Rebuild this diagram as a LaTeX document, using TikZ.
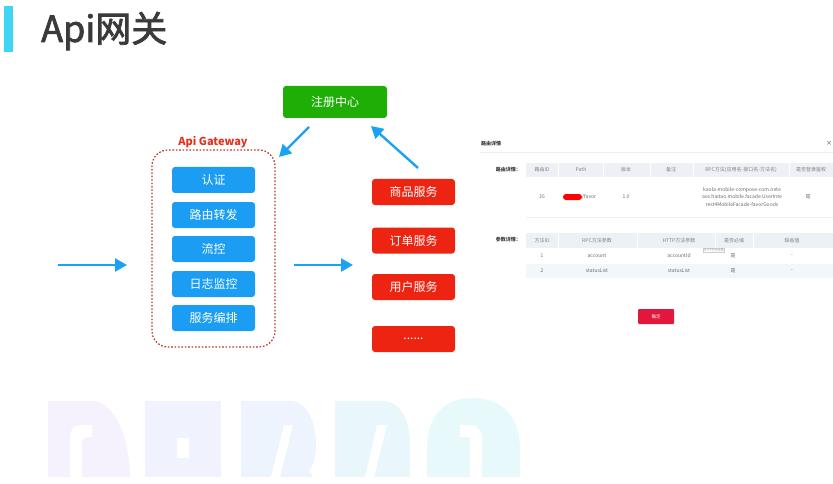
\documentclass[tikz,border=0pt]{standalone}
\usepackage{fontspec}
\setmainfont{Noto Sans CJK SC}
\newfontfamily\cjk{Noto Sans CJK SC}
\newfontfamily\titlefont[FakeBold=2]{Noto Sans CJK SC}
\usepackage{xcolor}
\usepackage{tikz}
\usetikzlibrary{
	arrows.meta,
	calc,
	positioning
}

\definecolor{barcyan}{HTML}{3FD6F5}
\definecolor{titlegray}{HTML}{3A3A3A}
\definecolor{gwblue}{HTML}{1A9DF2}
\definecolor{arrowblue}{HTML}{1AA2F4}
\definecolor{reggreen}{HTML}{1FAE05}
\definecolor{svcred}{HTML}{EE2412}
\definecolor{gwred}{HTML}{E2321F}
\definecolor{framered}{HTML}{B03A2A}
\definecolor{headbg}{HTML}{EDF1F6}
\definecolor{rowbg}{HTML}{F4F7FA}
\definecolor{linegray}{HTML}{ECEEF1}
\definecolor{txtgray}{HTML}{6A6A6A}
\definecolor{btnred}{HTML}{E3163B}
\definecolor{wma}{HTML}{F5F2FD}
\definecolor{wmb}{HTML}{F0F3FD}
\definecolor{wmc}{HTML}{EDF4FD}
\definecolor{wmd}{HTML}{E9F6FC}
\definecolor{wme}{HTML}{E7F9FB}

\tikzset{
	gwbox/.style={rectangle, rounded corners=3pt, fill=gwblue, text=white,
		minimum width=83pt, minimum height=26pt, inner sep=0pt,
		font=\fontsize{12}{12}\selectfont},
	svcbox/.style={gwbox, fill=svcred},
	regbox/.style={gwbox, fill=reggreen, minimum width=104pt, minimum height=32pt},
	gwframe/.style={draw=framered, line width=1.2pt, dash pattern=on 1.6pt off 1.8pt,
		rounded corners=16pt, minimum width=123pt, minimum height=197pt},
	flow/.style={arrowblue, line width=2.4pt, -{Triangle[length=12pt,width=13pt]}},
	cell/.style={inner sep=0pt, text=txtgray, font=\fontsize{5}{5}\selectfont},
	hcell/.style={cell, text=gray},
	lbl/.style={inner sep=0pt, text=titlegray, font=\fontsize{5}{5}\selectfont\bfseries}
}

\begin{document}
\begin{tikzpicture}[x=1pt, y=-1pt]
	\useasboundingbox (0,0) rectangle (833,484);

	% 背景水印
	\fill[wma] (48,401) -- (92,401) .. controls (115,401) and (130,440) .. (130,477) -- (48,477) -- cycle;
	\fill[white] (70,477) -- (70,437) .. controls (70,430) and (74,425) .. (80,425) -- (92,425) -- (92,437) -- (86,437) .. controls (83,437) and (82,440) .. (82,443) -- (82,477) -- cycle;
	\fill[wmb] (145,401) rectangle (221,477);
	\fill[white] (177,438) rectangle (189,458);
	\fill[wmc] (241,401) -- (290,401) .. controls (306,401) and (316,420) .. (316,445) .. controls (316,460) and (312,467) .. (309,470) -- (313,477) -- (241,477) -- cycle;
	\fill[white] (284,425) -- (293,425) -- (280,477) -- (271,477) -- cycle;
	\fill[wmd] (335,401) -- (383,401) .. controls (400,401) and (410,420) .. (410,445) -- (410,477) -- (335,477) -- cycle;
	\fill[white] (377,425) -- (387,425) -- (374,477) -- (365,477) -- cycle;
	\fill[wme] (427,477) -- (427,450) .. controls (427,420) and (440,398) .. (473,398) .. controls (505,398) and (520,420) .. (520,450) -- (520,477) -- cycle;
	\fill[white] (460,425) -- (472,425) .. controls (478,425) and (482,432) .. (482,440) -- (482,477) -- (470,477) -- (470,437) -- (460,437) -- cycle;

	% 标题
	\fill[barcyan] (4,6) rectangle (13,52);
	\node[anchor=west, inner sep=0pt, text=titlegray, font=\titlefont\fontsize{36}{36}\selectfont] (title) at (41,31) {Api网关};

	% 注册中心
	\node[regbox] (reg) at (335,102) {注册中心};

	% 网关
	\node[gwframe] (gw) at (213.5,248.5) {};
	\node[text=gwred, inner sep=0pt, font=\fontsize{11}{11}\selectfont\bfseries] (gwname) at (213,142) {Api Gateway};
	\node[gwbox] (auth) at (213.5,180) {认证};
	\node[gwbox] (route) at (213.5,215) {路由转发};
	\node[gwbox] (limit) at (213.5,249) {流控};
	\node[gwbox] (logmon) at (213.5,284) {日志监控};
	\node[gwbox] (orch) at (213.5,318) {服务编排};

	% 服务
	\node[svcbox] (goods) at (413.5,192) {商品服务};
	\node[svcbox] (order) at (413.5,240.5) {订单服务};
	\node[svcbox] (user) at (413.5,287) {用户服务};
	\node[svcbox] (more) at (413.5,339) {......};

	% 箭头
	\coordinate (inA) at (58,265);
	\coordinate (inB) at (127,265);
	\coordinate (midA) at (294,265);
	\coordinate (midB) at (353,265);
	\coordinate (regA) at (309,127);
	\coordinate (regB) at (279,157);
	\coordinate (svcA) at (418,168);
	\coordinate (svcB) at (371,126);
	\draw[flow] (inA) -- (inB);
	\draw[flow] (midA) -- (midB);
	\draw[flow] (regA) -- (regB);
	\draw[flow] (svcA) -- (svcB);

	% 右侧截图：路由详情
	\node[lbl, anchor=west] (dlgtitle) at (481,144) {路由详情};
	\node[inner sep=0pt, text=titlegray, font=\fontsize{6}{6}\selectfont] (close) at (829,143) {×};
	\draw[linegray, line width=0.6pt] (480,152) -- (833,152);

	\node[lbl, anchor=east] (routelbl) at (521,170) {路由详情：};
	\fill[headbg] (526,163) rectangle (833,177);
	\foreach \xx in {558,603,650,693,789}
		\draw[white, line width=0.8pt] (\xx,163) -- (\xx,177);
	\node[hcell] (hid) at (542,170) {路由ID};
	\node[hcell] (hpath) at (581,170) {Path};
	\node[hcell] (hver) at (626,170) {版本};
	\node[hcell] (hnote) at (671,170) {备注};
	\node[hcell] (hrpc) at (741,170) {RPC方法(应用名-接口名-方法名)};
	\node[hcell] (hlogin) at (811,170) {是否登录鉴权};

	\node[cell] (vid) at (542,197) {35};
	\fill[red, rounded corners=3pt] (563,194) rectangle (582,200);
	\node[cell, anchor=west] (vpath) at (582,197) {/favor};
	\node[cell] (vver) at (626,197) {1.0};
	\node[cell, align=center, font=\fontsize{5}{7.8}\selectfont] (vrpc) at (742,197)
		{kaola-mobile-compose-com.nete\\ase.haitao.mobile.facade.UserInte\\rest4MobileFacade-favorGoods};
	\node[cell] (vlogin) at (808,197) {是};
	\draw[linegray, line width=0.6pt] (526,217) -- (833,217);

	% 参数详情
	\node[lbl, anchor=east] (paramlbl) at (521,240) {参数详情：};
	\fill[headbg] (526,233) rectangle (833,248);
	\fill[rowbg] (526,264) rectangle (833,278);
	\foreach \xx in {558,637,715,753}
		\draw[white, line width=0.8pt] (\xx,233) -- (\xx,248);
	\node[hcell] (pid) at (542,240.5) {方法ID};
	\node[hcell] (prpc) at (597,240.5) {RPC方法参数};
	\node[hcell] (phttp) at (679,240.5) {HTTP方法参数};
	\node[hcell] (preq) at (734,240.5) {是否必填};
	\node[hcell] (pdef) at (792,240.5) {缺省值};

	\node[cell] (aid) at (542,256) {1};
	\node[cell] (arpc) at (597,256) {account};
	\node[cell] (ahttp) at (679,256) {accountId};
	\node[cell] (areq) at (733,256) {是};
	\node[cell] (adef) at (792,256) {-};
	\node[cell] (bid) at (542,271) {2};
	\node[cell] (brpc) at (597,271) {statusList};
	\node[cell] (bhttp) at (679,271) {statusList};
	\node[cell] (breq) at (733,271) {是};
	\node[cell] (bdef) at (792,271) {-};

	% 提示框
	\node[draw=black!20, fill=white, line width=0.3pt, inner sep=0.8pt, text=black!35,
		font=\fontsize{3}{3}\selectfont] (tip) at (714,250) {HTTP方法参数};

	% 确定按钮
	\node[fill=btnred, rounded corners=1pt, minimum width=36pt, minimum height=15pt,
		inner sep=0pt, text=white, font=\fontsize{4.5}{4.5}\selectfont] (okbtn) at (656,316.5) {确定};
\end{tikzpicture}
\end{document}
